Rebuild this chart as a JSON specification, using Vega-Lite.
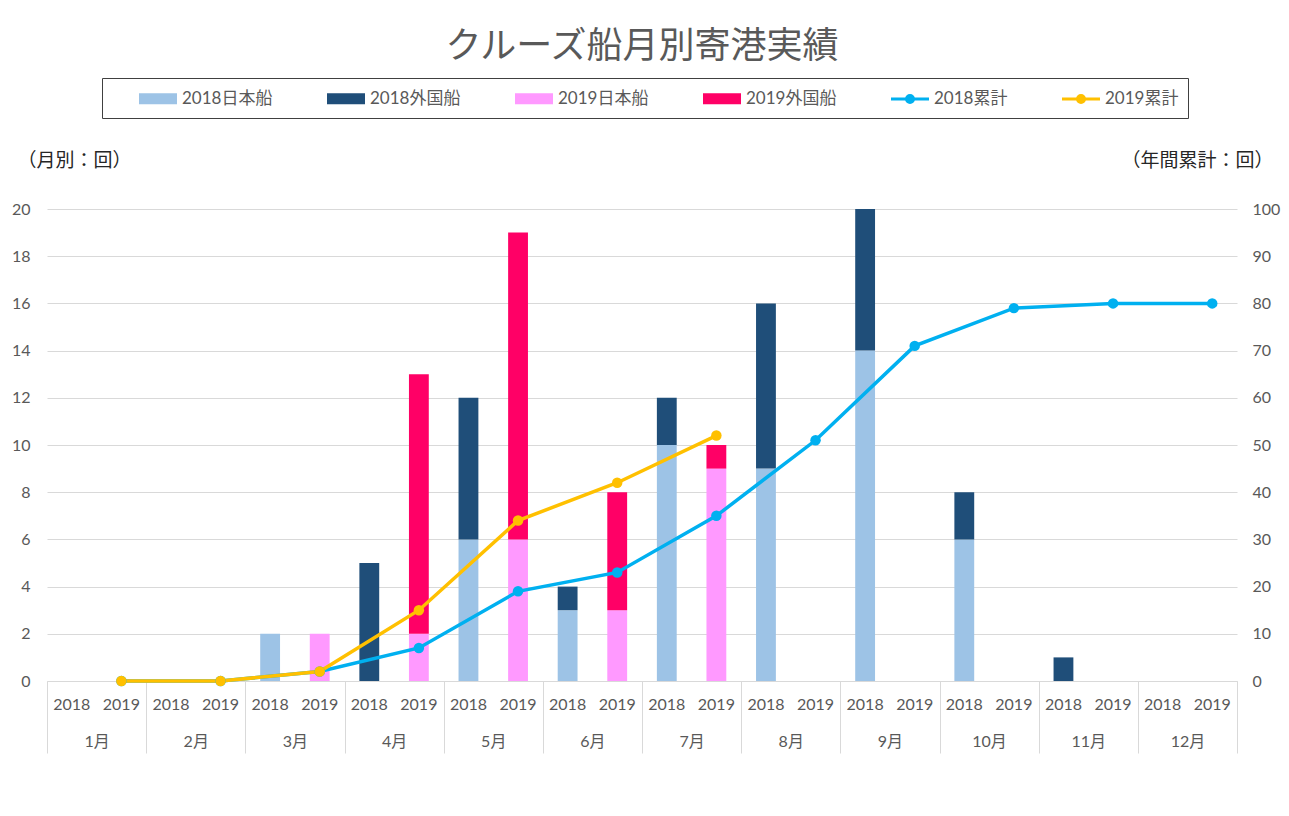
{
  "$schema": "https://vega.github.io/schema/vega-lite/v6.json",
  "width": 1190,
  "height": 472,
  "autosize": "none",
  "padding": {"left": 47, "top": 209, "right": 52, "bottom": 135},
  "background": "white",
  "title": {
    "text": "クルーズ船月別寄港実績",
    "font": "Noto Sans CJK JP",
    "fontSize": 36,
    "fontWeight": "normal",
    "color": "#595959",
    "anchor": "middle",
    "offset": 12
  },
  "datasets": {
    "ships": [
      {"key": "3月|2018", "series": "2018日本船", "value": 2},
      {"key": "3月|2019", "series": "2019日本船", "value": 2},
      {"key": "4月|2018", "series": "2018外国船", "value": 5},
      {"key": "4月|2019", "series": "2019日本船", "value": 2},
      {"key": "4月|2019", "series": "2019外国船", "value": 11},
      {"key": "5月|2018", "series": "2018日本船", "value": 6},
      {"key": "5月|2018", "series": "2018外国船", "value": 6},
      {"key": "5月|2019", "series": "2019日本船", "value": 6},
      {"key": "5月|2019", "series": "2019外国船", "value": 13},
      {"key": "6月|2018", "series": "2018日本船", "value": 3},
      {"key": "6月|2018", "series": "2018外国船", "value": 1},
      {"key": "6月|2019", "series": "2019日本船", "value": 3},
      {"key": "6月|2019", "series": "2019外国船", "value": 5},
      {"key": "7月|2018", "series": "2018日本船", "value": 10},
      {"key": "7月|2018", "series": "2018外国船", "value": 2},
      {"key": "7月|2019", "series": "2019日本船", "value": 9},
      {"key": "7月|2019", "series": "2019外国船", "value": 1},
      {"key": "8月|2018", "series": "2018日本船", "value": 9},
      {"key": "8月|2018", "series": "2018外国船", "value": 7},
      {"key": "9月|2018", "series": "2018日本船", "value": 14},
      {"key": "9月|2018", "series": "2018外国船", "value": 6},
      {"key": "10月|2018", "series": "2018日本船", "value": 6},
      {"key": "10月|2018", "series": "2018外国船", "value": 2},
      {"key": "11月|2018", "series": "2018外国船", "value": 1}
    ],
    "cumulative": [
      {"key": "1月|2019", "series": "2018累計", "total": 0},
      {"key": "2月|2019", "series": "2018累計", "total": 0},
      {"key": "3月|2019", "series": "2018累計", "total": 2},
      {"key": "4月|2019", "series": "2018累計", "total": 7},
      {"key": "5月|2019", "series": "2018累計", "total": 19},
      {"key": "6月|2019", "series": "2018累計", "total": 23},
      {"key": "7月|2019", "series": "2018累計", "total": 35},
      {"key": "8月|2019", "series": "2018累計", "total": 51},
      {"key": "9月|2019", "series": "2018累計", "total": 71},
      {"key": "10月|2019", "series": "2018累計", "total": 79},
      {"key": "11月|2019", "series": "2018累計", "total": 80},
      {"key": "12月|2019", "series": "2018累計", "total": 80},
      {"key": "1月|2019", "series": "2019累計", "total": 0},
      {"key": "2月|2019", "series": "2019累計", "total": 0},
      {"key": "3月|2019", "series": "2019累計", "total": 2},
      {"key": "4月|2019", "series": "2019累計", "total": 15},
      {"key": "5月|2019", "series": "2019累計", "total": 34},
      {"key": "6月|2019", "series": "2019累計", "total": 42},
      {"key": "7月|2019", "series": "2019累計", "total": 52}
    ],
    "months": [
      {"month": "1月"}, {"month": "2月"}, {"month": "3月"}, {"month": "4月"},
      {"month": "5月"}, {"month": "6月"}, {"month": "7月"}, {"month": "8月"},
      {"month": "9月"}, {"month": "10月"}, {"month": "11月"}, {"month": "12月"}
    ]
  },
  "layer": [
    {
      "data": {"name": "ships"},
      "mark": {"type": "bar"},
      "encoding": {
        "x": {
          "field": "key", "type": "nominal",
          "scale": {
            "type": "band",
            "domain": ["1月|2018","1月|2019","2月|2018","2月|2019","3月|2018","3月|2019","4月|2018","4月|2019","5月|2018","5月|2019","6月|2018","6月|2019","7月|2018","7月|2019","8月|2018","8月|2019","9月|2018","9月|2019","10月|2018","10月|2019","11月|2018","11月|2019","12月|2018","12月|2019"],
            "paddingInner": 0.6, "paddingOuter": 0.3
          },
          "axis": {
            "title": null,
            "orient": "bottom",
            "labelExpr": "split(datum.label, '|')[1]",
            "labelAngle": 0,
            "labelFontSize": 16,
            "labelColor": "#595959",
            "labelPadding": 15,
            "ticks": false,
            "domain": true,
            "domainColor": "#D9D9D9",
            "domainWidth": 1,
            "grid": false
          }
        },
        "y": {
          "field": "value", "type": "quantitative", "stack": "zero",
          "scale": {"domain": [0, 20], "nice": false},
          "axis": {
            "orient": "left",
            "title": "（月別：回）",
            "titleAngle": 0,
            "titleX": 27,
            "titleY": -49,
            "titleAlign": "center",
            "titleBaseline": "middle",
            "titleFont": "Noto Sans CJK JP",
            "titleFontSize": 19,
            "titleFontWeight": "normal",
            "titleColor": "#262626",
            "values": [0, 2, 4, 6, 8, 10, 12, 14, 16, 18, 20],
            "labelFontSize": 16,
            "labelColor": "#595959",
            "labelPadding": 17,
            "ticks": false,
            "domain": false,
            "grid": true,
            "gridColor": "#D9D9D9",
            "gridWidth": 1
          }
        },
        "color": {
          "field": "series", "type": "nominal",
          "scale": {
            "domain": ["2018日本船", "2018外国船", "2019日本船", "2019外国船", "2018累計", "2019累計"],
            "range": ["#9DC3E6", "#1F4E79", "#FF99FF", "#FF0066", "#00B0F0", "#FFC000"]
          },
          "legend": {
            "title": null,
            "orient": "none",
            "legendX": 55,
            "legendY": -131,
            "direction": "horizontal",
            "columns": 6,
            "strokeColor": "#404040",
            "padding": 9,
            "columnPadding": 26,
            "symbolSize": 400,
            "symbolStrokeWidth": 3,
            "labelOffset": 48,
            "labelFontSize": 17,
            "labelColor": "#595959",
            "encode": {
              "symbols": {
                "update": {
                  "shape": {"signal": "indexof(datum.value, '累計') >= 0 ? 'M1.65,0H3.2C3.2,-0.193,3.357,-0.35,3.55,-0.35C3.743,-0.35,3.9,-0.193,3.9,0C3.9,0.193,3.743,0.35,3.55,0.35C3.357,0.35,3.2,0.193,3.2,0M3.9,0H5.45' : 'M1.8,-0.4H5.3V0.4H1.8Z'"},
                  "stroke": {"scale": "color", "field": "value"},
                  "fill": {"scale": "color", "field": "value"}
                }
              }
            }
          }
        },
        "order": {"field": "series", "sort": "descending"}
      }
    },
    {
      "data": {"name": "cumulative"},
      "mark": {"type": "line", "strokeWidth": 3.5, "point": {"filled": true, "size": 110, "opacity": 1}},
      "encoding": {
        "x": {
          "field": "key", "type": "nominal",
          "scale": {
            "type": "band",
            "domain": ["1月|2018","1月|2019","2月|2018","2月|2019","3月|2018","3月|2019","4月|2018","4月|2019","5月|2018","5月|2019","6月|2018","6月|2019","7月|2018","7月|2019","8月|2018","8月|2019","9月|2018","9月|2019","10月|2018","10月|2019","11月|2018","11月|2019","12月|2018","12月|2019"],
            "paddingInner": 0.6, "paddingOuter": 0.3
          },
          "axis": null
        },
        "y": {
          "field": "total", "type": "quantitative",
          "scale": {"domain": [0, 100], "nice": false},
          "axis": {
            "orient": "right",
            "title": "（年間累計：回）",
            "titleAngle": 0,
            "titleX": -40,
            "titleY": -49,
            "titleAlign": "center",
            "titleBaseline": "middle",
            "titleFont": "Noto Sans CJK JP",
            "titleFontSize": 19,
            "titleFontWeight": "normal",
            "titleColor": "#262626",
            "values": [0, 10, 20, 30, 40, 50, 60, 70, 80, 90, 100],
            "labelFontSize": 16,
            "labelColor": "#595959",
            "labelPadding": 15,
            "ticks": false,
            "domain": false,
            "grid": false
          }
        },
        "color": {
          "field": "series", "type": "nominal",
          "scale": {
            "domain": ["2018日本船", "2018外国船", "2019日本船", "2019外国船", "2018累計", "2019累計"],
            "range": ["#9DC3E6", "#1F4E79", "#FF99FF", "#FF0066", "#00B0F0", "#FFC000"]
          }
        }
      }
    },
    {
      "data": {"name": "months"},
      "mark": {"type": "rule", "opacity": 0},
      "encoding": {
        "x": {
          "field": "month", "type": "nominal",
          "scale": {
            "type": "band",
            "domain": ["1月","2月","3月","4月","5月","6月","7月","8月","9月","10月","11月","12月"],
            "paddingInner": 0, "paddingOuter": 0
          },
          "axis": {
            "title": null,
            "orient": "bottom",
            "labelAngle": 0,
            "labelFontSize": 16,
            "labelColor": "#595959",
            "domain": false,
            "ticks": true,
            "tickBand": "extent",
            "tickSize": 72,
            "tickColor": "#D9D9D9",
            "tickWidth": 1,
            "labelPadding": -20,
            "grid": false
          }
        }
      }
    }
  ],
  "resolve": {"scale": {"x": "independent", "y": "independent"}},
  "config": {
    "view": {"stroke": null},
    "font": "Lato, Noto Sans CJK JP",
    "axis": {"labelFont": "Lato, Noto Sans CJK JP"},
    "legend": {"labelFont": "Lato, Noto Sans CJK JP"}
  }
}
